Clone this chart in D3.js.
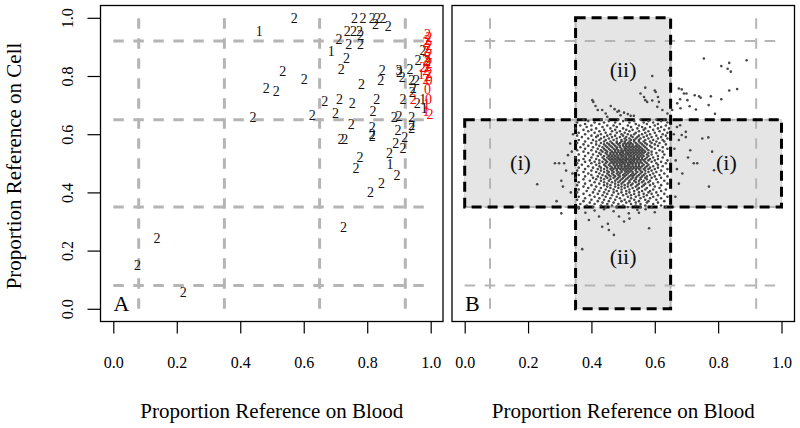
<!DOCTYPE html>
<html><head><meta charset="utf-8">
<script src="https://cdn.jsdelivr.net/npm/d3@7"></script>
<style>body{margin:0;background:#fff} svg{display:block} text{font-family:"Liberation Serif","Times New Roman",serif}</style>
</head><body><svg id="c" width="800" height="428"></svg>
<script>
// ---------- data ----------
const tickValues = [0, 0.2, 0.4, 0.6, 0.8, 1.0];
const guideLines = [0.08, 0.35, 0.65, 0.92];
const panelNames = ["A", "B"];
const xTitle = "Proportion Reference on Blood";
const yTitle = "Proportion Reference on Cell";
// panel A: [x, y, label] black
const labelsBlack = [
 [0.57,1.00,"2"],[0.46,0.955,"1"],
 [0.76,1.00,"2"],[0.787,1.00,"2"],[0.816,1.00,"2"],[0.832,1.00,"2"],[0.85,1.00,"2"],[0.826,0.98,"2"],[0.866,0.972,"2"],
 [0.737,0.955,"2"],[0.757,0.955,"2"],[0.776,0.955,"2"],[0.78,0.94,"2"],
 [0.711,0.928,"2"],[0.742,0.911,"2"],[0.779,0.911,"2"],
 [0.687,0.886,"1"],[0.735,0.86,"2"],[0.718,0.822,"2"],[0.534,0.818,"2"],[0.602,0.79,"2"],[0.482,0.757,"2"],[0.513,0.749,"2"],
 [0.44,0.658,"2"],[0.627,0.666,"2"],[0.666,0.715,"2"],[0.713,0.719,"2"],[0.753,0.706,"2"],[0.70,0.671,"2"],[0.782,0.772,"2"],
 [0.847,0.82,"2"],[0.843,0.786,"2"],[0.83,0.721,"2"],[0.818,0.68,"2"],[0.75,0.635,"2"],[0.816,0.625,"2"],[0.816,0.60,"2"],
 [0.816,0.593,"2"],[0.717,0.582,"2"],[0.729,0.582,"2"],[0.777,0.522,"2"],[0.765,0.483,"2"],[0.845,0.433,"2"],[0.81,0.40,"2"],
 [0.725,0.282,"2"],[0.138,0.243,"2"],[0.076,0.149,"2"],[0.22,0.056,"2"],[0.87,0.534,"2"],[0.872,0.497,"1"],[0.894,0.46,"2"],
 [0.89,0.571,"2"],[0.913,0.551,"2"],[0.918,0.591,"2"],[0.897,0.614,"2"],[0.885,0.658,"2"],[0.90,0.662,"2"],[0.94,0.658,"2"],
 [0.94,0.632,"2"],[0.94,0.62,"2"],[0.90,0.82,"3"],[0.902,0.815,"2"],[0.91,0.795,"2"],[0.935,0.822,"2"],[0.94,0.786,"2"],
 [0.955,0.786,"2"],[0.945,0.76,"2"],[0.942,0.745,"2"],[0.913,0.72,"2"],[0.958,0.706,"2"],[0.975,0.72,"1"],[0.96,0.853,"2"],
 [0.976,0.888,"2"],[0.99,0.85,"2"],[0.98,0.69,"1"]
];
// panel A: [x, y, label] red
const labelsRed = [
 [0.99,0.945,"2"],[0.995,0.935,"2"],[0.99,0.925,"2"],[0.985,0.915,"2"],[0.995,0.905,"2"],[0.99,0.895,"2"],[0.985,0.885,"2"],
 [0.995,0.875,"2"],[0.99,0.865,"2"],[0.985,0.855,"2"],[0.995,0.845,"2"],[0.99,0.835,"2"],[0.975,0.83,"2"],[0.985,0.82,"2"],
 [0.995,0.81,"2"],[0.97,0.805,"1"],[0.99,0.80,"2"],[0.985,0.79,"2"],[0.995,0.785,"0"],[0.99,0.755,"0"],[0.993,0.72,"0"],
 [0.987,0.705,"1"],[0.985,0.68,"1"],[0.998,0.668,"2"],[0.945,0.72,"2"]
];
// panel B dense cloud, rows: [y, [x...]] in hundredths
const cloudRows = [
 [65,[37.5,43,48.5,51,55.5,60.5,63]],
 [64.5,[39,45.5,50,53.5,58,62]],
 [64,[35.5,41,44,47.5,52,56.5,59.5,64]],
 [63.5,[38,42.5,49,54,57.5,61]],
 [63,[36.5,40,45,47,51.5,55,60,63.5]],
 [62.5,[38.5,43.5,48,52.5,56,58.5,62]],
 [62,[35,41.5,46,50,54.5,57,61,64.5]],
 [61.5,[37.5,40,44,47.5,51,53,56.5,59.5,63]],
 [61,[39,42.5,46.5,49,52,55,58,61.5]],
 [60.5,[36,41,44.5,48,50.5,54,57,60,64]],
 [60,[38,43,46,49.5,51.5,53.5,56,58.5,62.5]],
 [59.5,[35.5,40,42,45,47.5,50,52.5,55,57.5,60.5,63.5]],
 [59,[37,41.5,44,46.5,49,51,53,54.5,56.5,59,62]],
 [58.5,[39,43,45.5,48,50.5,52,54,55.5,58,61,64]],
 [58,[36,40.5,42.5,44.5,47,49.5,51,52.5,53.5,55,57,59.5,62.5]],
 [57.5,[38,41.5,44,46,48,49.5,50.5,52,53.5,55,56.5,58.5,60.5,63]],
 [57,[35.5,40,43,45,46.5,48,49,50.5,51.5,52.5,54,55.5,57,59,61.5]],
 [56.5,[37.5,41.5,44,45.5,47,48.5,50,51,52,53,54.5,56,57.5,60,63.5]],
 [56,[39,42.5,44.5,46,47.5,49,50,51,52,53,54,55,56.5,58.5,61]],
 [55.5,[36.5,40.5,43.5,45,46.5,48,49,50.5,51.5,52.5,53.5,54.5,55.5,57,59,62.5]],
 [55,[38,42,44,45.5,47,48,49.5,50.5,51,52,53,54,55,56,57.5,60,64]],
 [54.5,[35.5,40,43,44.5,46,47.5,48.5,49.5,50.5,51.5,52.5,53.5,54.5,55.5,56.5,58,61.5]],
 [54,[37.5,41.5,43.5,45,46.5,47.5,48.5,49.5,50,51,52,53,54,55,56,57,59,62.5]],
 [53.5,[39,42.5,44.5,46,47,48,49,50,51,51.5,52.5,53.5,54.5,55.5,56.5,58,60.5]],
 [53,[36,40.5,43,45,46,47,48,49,49.5,50.5,51.5,52,53,54,55,56,57.5,59,63]],
 [52.5,[38,42,44,45.5,46.5,47.5,48.5,49.5,50,51,52,52.5,53.5,54.5,55.5,56.5,58,61]],
 [52,[35,40,43.5,45,46,47,48,48.5,49.5,50.5,51,52,53,53.5,54.5,55,56,57.5,59.5,62.5]],
 [51.5,[37.5,41.5,44,45.5,46.5,47.5,48.5,49,50,51,51.5,52.5,53.5,54,55,56,57,58.5,61]],
 [51,[36,39.5,42.5,44.5,46,47,48,49,49.5,50.5,51,52,53,53.5,54.5,55.5,56.5,58,60,64]],
 [50.5,[38,41,43.5,45,46.5,47.5,48.5,49.5,50,51,52,52.5,53.5,54.5,55.5,57,59,62]],
 [50,[35.5,40,42.5,44.5,46,47,48,49,50,50.5,51.5,52.5,53,54,55,56,57.5,60.5,63.5]],
 [49.5,[37,41.5,44,45.5,47,48,49,49.5,50.5,51.5,52,53,54,55,56.5,58,61]],
 [49,[39,42.5,44.5,46,47.5,48.5,49.5,50.5,51,52,53,54,55,56,57.5,59.5,62.5]],
 [48.5,[36,40.5,43,45,46.5,47.5,48.5,49.5,50.5,51.5,52.5,53.5,54.5,55.5,57,58.5,61]],
 [48,[38,42,44,46,47,48,49,50,51,52,53,54,55,56.5,58,60,64]],
 [47.5,[35.5,40,43,45,46.5,48,49.5,50.5,51.5,52.5,54,55.5,57,59,62]],
 [47,[37.5,41.5,44,45.5,47,48.5,49.5,51,52,53,54.5,56,58,60.5]],
 [46.5,[39,42.5,45,46.5,48,49,50.5,51.5,53,54,55.5,57,59.5,63]],
 [46,[36,40,43.5,45.5,47,48.5,50,51,52.5,53.5,55,56.5,58.5,61.5]],
 [45.5,[38,42,44.5,46,47.5,49,50.5,52,53,54.5,56,57.5,60,64]],
 [45,[35,40.5,43,45,47,48.5,50,51.5,53,54,55.5,57,59,62]],
 [44.5,[37.5,41.5,44,46,48,49.5,51,52.5,54,55.5,57.5,60.5]],
 [44,[39.5,43,45.5,47.5,49,50.5,52,53.5,55,56.5,58.5,63]],
 [43.5,[36,41,44,46.5,48.5,50,52,54,56,58,61]],
 [43,[38,42.5,45,47.5,49.5,51.5,53,55,57,59.5,64]],
 [42.5,[35.5,40,44,46,48.5,50.5,52.5,54.5,56.5,58.5,62]],
 [42,[37.5,41.5,45,47.5,49.5,51.5,54,56,60]],
 [41.5,[39,43,46,48.5,50.5,53,55,57.5,61.5]],
 [41,[36,41,44.5,47,49.5,52,54.5,57,59.5,63.5]],
 [40.5,[38.5,42.5,45.5,48,51,53.5,56,58.5,62]],
 [40,[35.5,40.5,44,47,49.5,52,55,58,60.5]],
 [39.5,[37.5,42,45,48.5,51,53.5,56.5,59,63]],
 [39,[39.5,43.5,46.5,50,52.5,55,57.5,61]],
 [38.5,[36,41,44.5,48,51.5,54,56.5,59.5,64]],
 [38,[38,42.5,46,49,52.5,55.5,58.5,62]],
 [37.5,[35.5,40,44,47.5,50.5,53.5,57,60.5]],
 [37,[37.5,42,45.5,49.5,52,55,58,63]],
 [36.5,[39.5,43.5,47,51,54,57.5,61]],
 [36,[36.5,41,45,48.5,52.5,55.5,59.5]],
 [35.5,[38.5,43,46.5,50,54,57,62]],
 [35,[36,40.5,44.5,48,51.5,55.5,59,63.5]]
];
// panel B scattered points outside the dense cloud: [x, y] in hundredths
const cloudOuter = [
 [75.5,86],[81,83.4],[83.5,84.5],[83,82.5],[84,81.5],[89,85.4],[83.5,75],[86,75.5],[81,72],[77.7,73],[74,73],[74.5,72.5],
 [70,74],[68.5,75.4],[68,72],[71,69.6],[73,68.5],[77,70],[79,67],[67.6,75.7],[69.2,74],[72.6,73.4],[70.3,71.7],[67.1,70.6],[68.1,68.9],
 [64.5,82],[59.2,80],[57,76],[60,75],[61,72.8],[57,71.7],[55.5,74],[56.6,72.8],[57.6,71.1],[59.2,71.6],[60.3,74.5],[61.3,71.1],
 [60.8,69.4],[62.4,68.3],[64,67.1],[65.5,68.3],[40.6,71.1],[41.3,69.7],[40.3,71.7],[42,68.3],[46.1,69.7],[47.3,68.6],[48.7,68],
 [50.3,67.4],[51.5,66.9],[52.4,66.3],[53.4,66.3],[43.4,68.3],[44.5,67.1],[48.2,67.7],[49.2,66.5],[45,66],
 [22.9,42.8],[28.5,50],[29.8,50],[31.4,50],[30.5,44],[31,42],[29,37],[30.5,32.8],[32.6,52.8],[33.3,56.8],[34,46.5],[33.5,40],
 [32,47.5],[34.2,60],[33.8,54],
 [67.6,58],[68.5,59.7],[69.8,59],[71.2,54.5],[72.3,50],[73.4,50],[75,58.5],[76.9,58.9],[77.1,42],[78.1,54],[78.7,47.6],[68.7,46.5],
 [66.6,51],[67.6,43],[67,62.5],[68,63.1],[69.8,60.8],[66.2,55],[67,48],[66.5,38.5],[70.5,52],[66,60],
 [39.2,30.5],[42.4,31.7],[43.4,28.2],[47.1,25.4],[50.3,30],[58.2,27.7],[37.1,20.5],[45.2,29.2],[45.5,27.1],[48.7,31.7],[51.8,32.8],
 [54.5,34],[57.1,34.2],[36,34.5],[38.1,33],[41,33.8],[44,34.2],[47,33.5],[52,31],[55,33],[60,33.2]
];
// region labels in panel B
const regionLabels = [
 {x:0.176,y:0.5,t:"(i)"},{x:0.826,y:0.5,t:"(i)"},{x:0.5,y:0.82,t:"(ii)"},{x:0.5,y:0.175,t:"(ii)"}
];
// shaded regions in panel B: [x0,x1,y0,y1]
const crossRects = [[0,1,0.35,0.65],[0.35,0.65,0,1]];
const centerRect = [0.35,0.65,0.35,0.65];

// ---------- drawing ----------
const svg = d3.select("#c");
const y = d3.scaleLinear().domain([0,1]).range([308.8,17.8]);
const panels = [
  {x: d3.scaleLinear().domain([0,1]).range([113.3,430.7]), box:[100.5,443,5.5,321.5], gw:3, name:panelNames[0]},
  {x: d3.scaleLinear().domain([0,1]).range([464.7,781.5]), box:[452,794.5,5.5,321.5], gw:2, name:panelNames[1]}
];
const gray = "#b5b5b5";

panels.forEach((p,i) => {
  const g = svg.append("g");
  const x = p.x;
  if (i === 1) {
    crossRects.forEach(r => {
      g.append("rect").attr("x", x(r[0])).attr("y", y(r[3]))
        .attr("width", x(r[1])-x(r[0])).attr("height", y(r[2])-y(r[3]))
        .attr("fill", "#e5e5e5").attr("stroke", "#c8c8c8").attr("stroke-width", 0.8);
    });
    g.append("rect").attr("x", x(centerRect[0])).attr("y", y(centerRect[3]))
      .attr("width", x(centerRect[1])-x(centerRect[0])).attr("height", y(centerRect[2])-y(centerRect[3]))
      .attr("fill", "#fff");
  }
  guideLines.forEach(v => {
    g.append("line").attr("x1", x(0)).attr("x2", x(1)).attr("y1", y(v)).attr("y2", y(v))
      .attr("stroke", gray).attr("stroke-width", p.gw).attr("stroke-dasharray", "10.5,9.5");
    g.append("line").attr("x1", x(v)).attr("x2", x(v)).attr("y1", y(0)).attr("y2", y(1))
      .attr("stroke", gray).attr("stroke-width", p.gw).attr("stroke-dasharray", "10.5,9.5");
  });
  if (i === 1) {
    crossRects.forEach(r => {
      g.append("rect").attr("x", x(r[0])).attr("y", y(r[3]))
        .attr("width", x(r[1])-x(r[0])).attr("height", y(r[2])-y(r[3]))
        .attr("fill", "none").attr("stroke", "#000").attr("stroke-width", 3).attr("stroke-dasharray", "10,6");
    });
    const pts = [];
    cloudRows.forEach(([yy, xs]) => xs.forEach(xx => pts.push([xx/100, yy/100])));
    cloudOuter.forEach(([xx, yy]) => pts.push([xx/100, yy/100]));
    g.selectAll("circle.pt").data(pts).enter().append("circle")
      .attr("cx", d => x(d[0])).attr("cy", d => y(d[1])).attr("r", 1.3).attr("fill", "#474747");
    regionLabels.forEach(l => {
      g.append("text").attr("x", x(l.x)).attr("y", y(l.y)).attr("dy", "0.3em")
        .attr("text-anchor", "middle").attr("font-size", 22).attr("fill", "#111").text(l.t);
    });
  } else {
    g.selectAll("text.bl").data(labelsBlack).enter().append("text")
      .attr("x", d => x(d[0])).attr("y", d => y(d[1])).attr("dy", "0.35em")
      .attr("text-anchor", "middle").attr("font-size", 14).attr("fill", "#111").text(d => d[2]);
    g.selectAll("text.rd").data(labelsRed).enter().append("text")
      .attr("x", d => x(d[0])).attr("y", d => y(d[1])).attr("dy", "0.35em")
      .attr("text-anchor", "middle").attr("font-size", 14).attr("fill", "#ff0000").text(d => d[2]);
  }
  g.append("text").attr("x", p.box[0] + 13).attr("y", 310.5).attr("font-size", 22).attr("fill", "#000").text(p.name);
  g.append("rect").attr("x", p.box[0]).attr("y", p.box[2]).attr("width", p.box[1]-p.box[0]).attr("height", p.box[3]-p.box[2])
    .attr("fill", "none").attr("stroke", "#000").attr("stroke-width", 1.3);
  const ax = svg.append("g").attr("transform", `translate(0,${p.box[3]})`)
    .call(d3.axisBottom(x).tickValues(tickValues).tickFormat(d3.format(".1f")).tickSize(12).tickPadding(23));
  ax.select(".domain").remove();
  ax.selectAll("line").attr("stroke", "#000").attr("stroke-width", 1.2);
  ax.selectAll("text").attr("font-size", 16).attr("font-family", "Liberation Serif").attr("fill", "#000");
  svg.append("text").attr("x", (p.box[0]+p.box[1])/2).attr("y", 418).attr("text-anchor", "middle")
    .attr("font-size", 21).attr("fill", "#000").text(xTitle);
});

const ay = svg.append("g").attr("transform", "translate(100.5,0)")
  .call(d3.axisLeft(y).tickValues(tickValues).tickFormat(d3.format(".1f")).tickSize(13));
ay.select(".domain").remove();
ay.selectAll("line").attr("stroke", "#000").attr("stroke-width", 1.2);
ay.selectAll("text").attr("x", 0).attr("dy", 0).attr("text-anchor", "middle")
  .attr("transform", "translate(-27.5,0) rotate(-90)")
  .attr("font-size", 16).attr("font-family", "Liberation Serif").attr("fill", "#000");
svg.append("text").attr("transform", "translate(21,166) rotate(-90)").attr("text-anchor", "middle")
  .attr("font-size", 21).attr("fill", "#000").text(yTitle);
</script></body></html>
